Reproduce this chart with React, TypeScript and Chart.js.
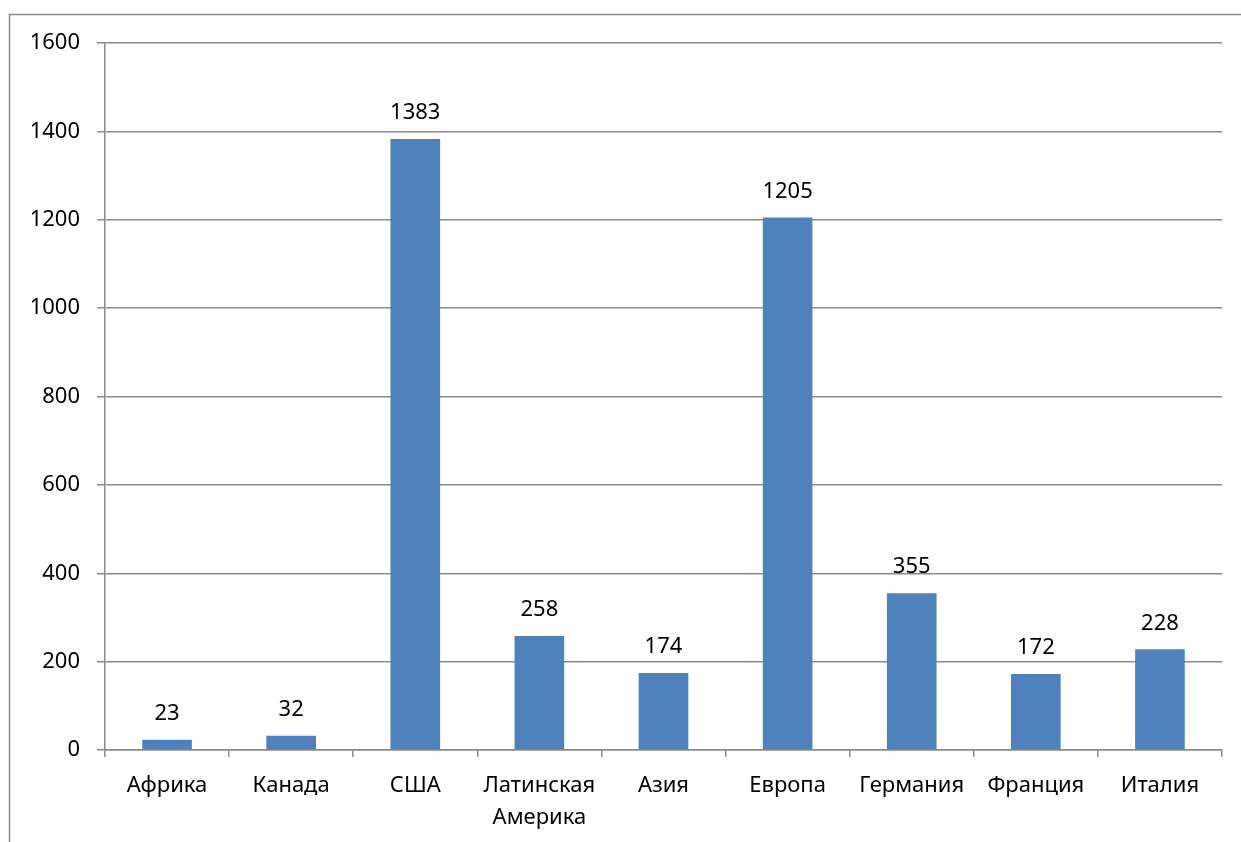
import React, { useEffect, useRef } from "react";
import { Chart, registerables } from "chart.js";

Chart.register(...registerables);

const categories: (string | string[])[] = [
  "Африка",
  "Канада",
  "США",
  ["Латинская", "Америка"],
  "Азия",
  "Европа",
  "Германия",
  "Франция",
  "Италия",
];
const values = [23, 32, 1383, 258, 174, 1205, 355, 172, 228];
const yMin = 0;
const yMax = 1600;
const yStep = 200;

const FONT = "'Noto Sans', 'Open Sans', sans-serif";
const GRID = "#8a8a8a";
const BAR = "#4F81BD";
const FS = 22;

export default function App() {
  const ref = useRef<HTMLCanvasElement | null>(null);

  useEffect(() => {
    if (!ref.current) return;
    const frame = {
      id: "frame",
      beforeDraw(chart: any) {
        const ctx = chart.ctx;
        ctx.save();
        ctx.fillStyle = "#ffffff";
        ctx.fillRect(0, 0, chart.width, chart.height);
        ctx.strokeStyle = GRID;
        ctx.lineWidth = 1.5;
        ctx.strokeRect(9.5, 14.5, chart.width + 20, chart.height + 20);
        ctx.restore();
      },
    };
    const dataLabels = {
      id: "dataLabels",
      afterDatasetsDraw(chart: any) {
        const ctx = chart.ctx;
        const meta = chart.getDatasetMeta(0);
        ctx.save();
        ctx.font = `${FS}px ${FONT}`;
        ctx.fillStyle = "#000";
        ctx.textAlign = "center";
        ctx.textBaseline = "middle";
        meta.data.forEach((el: any, i: number) => {
          ctx.fillText(String(values[i]), el.x, el.y - 26);
        });
        ctx.restore();
      },
    };
    const chart = new Chart(ref.current, {
      type: "bar",
      data: {
        labels: categories,
        datasets: [
          {
            data: values,
            backgroundColor: BAR,
            borderWidth: 0,
            barPercentage: 0.4,
            categoryPercentage: 1,
          },
        ],
      },
      options: {
        animation: false,
        responsive: false,
        devicePixelRatio: 1,
        layout: { padding: { top: 43, right: 19, bottom: 0, left: 0 } },
        plugins: {
          legend: { display: false },
          tooltip: { enabled: false },
        },
        scales: {
          x: {
            grid: {
              offset: true,
              drawOnChartArea: false,
              drawTicks: true,
              tickLength: 7,
              color: GRID,
              lineWidth: 1.5,
            },
            border: { color: GRID, width: 1.5 },
            ticks: {
              color: "#000",
              font: { family: FONT, size: FS, lineHeight: 1.45 },
              padding: 13,
              maxRotation: 0,
              autoSkip: false,
            },
            afterFit(scale: any) {
              scale.height = 92;
            },
          },
          y: {
            min: yMin,
            max: yMax,
            grid: {
              color: GRID,
              lineWidth: 1.5,
              tickLength: 8,
            },
            border: { color: GRID, width: 1.5 },
            ticks: {
              stepSize: yStep,
              color: "#000",
              font: { family: FONT, size: FS },
              padding: 17,
              callback: (v: any) => String(v),
            },
            afterFit(scale: any) {
              scale.width = 105;
            },
          },
        },
      },
      plugins: [frame, dataLabels],
    } as any);
    return () => chart.destroy();
  }, []);

  return (
    <div style={{ position: "fixed", left: 0, top: 0, width: 1241, height: 842, background: "#fff" }}>
      <canvas ref={ref} width={1241} height={842} style={{ display: "block", width: 1241, height: 842 }} />
    </div>
  );
}
